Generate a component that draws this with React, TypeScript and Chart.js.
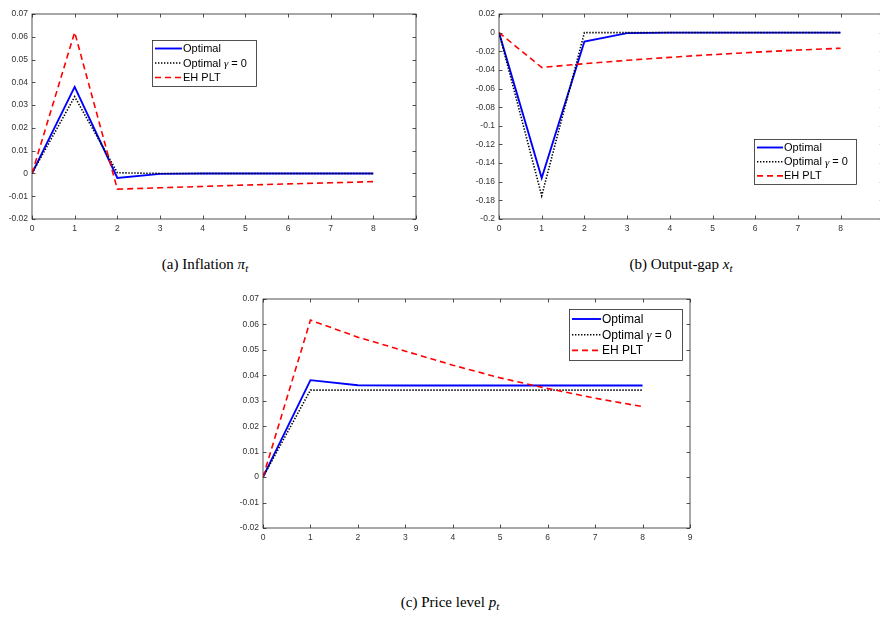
import React, { useEffect, useRef } from "react";
import { Chart, registerables } from "chart.js";
Chart.register(...registerables);

// ---------- data ----------
const periods = [0, 1, 2, 3, 4, 5, 6, 7, 8];
const seriesNames = ["Optimal", "Optimal γ = 0", "EH PLT"];

const inflationOptimal = [0, 0.038, -0.002, -0.0002, 0, 0, 0, 0, 0];
const inflationGamma0 = [0, 0.0337, 0.0003, 0, 0, 0, 0, 0, 0];
const inflationEH = [0, 0.062, -0.0069, -0.0063, -0.0057, -0.0051, -0.0046, -0.0041, -0.0036];

const gapOptimal = [0, -0.156, -0.0096, -0.0005, 0, 0, 0, 0, 0];
const gapGamma0 = [0, -0.175, 0, 0, 0, 0, 0, 0, 0];
const gapEH = [0, -0.0374, -0.0333, -0.0297, -0.0265, -0.0236, -0.021, -0.0187, -0.0167];

const priceOptimal = [0, 0.0381, 0.0361, 0.036, 0.036, 0.036, 0.036, 0.036, 0.036];
const priceGamma0 = [0, 0.0342, 0.0342, 0.0342, 0.0342, 0.0342, 0.0342, 0.0342, 0.0342];
const priceEH = [0, 0.0617, 0.055, 0.0495, 0.044, 0.039, 0.0348, 0.031, 0.0277];

const xTicks = { min: 0, max: 9, step: 1 };
const inflationTicks = { min: -0.02, max: 0.07, step: 0.01 };
const gapTicks = { min: -0.2, max: 0.02, step: 0.02 };
const priceTicks = { min: -0.02, max: 0.07, step: 0.01 };

const captions = ["(a) Inflation ", "(b) Output-gap ", "(c) Price level "];
const captionVars = ["π", "x", "p"];

// ---------- styles ----------
const AXIS = "#262626";
const lineStyles = [
  { color: "#0000ff", width: 1.9, dash: [] as number[] },
  { color: "#000000", width: 1.6, dash: [1.4, 1.6] },
  { color: "#ff0000", width: 1.6, dash: [6, 4] },
];

const framePlugin = {
  id: "matlabFrame",
  afterDatasetsDraw(chart: any) {
    const { ctx, chartArea: a, scales } = chart;
    ctx.save();
    ctx.strokeStyle = AXIS;
    ctx.lineWidth = 0.8;
    ctx.strokeRect(a.left, a.top, a.right - a.left, a.bottom - a.top);
    const len = 3.5;
    ctx.beginPath();
    for (const t of scales.y.ticks) {
      const p = Math.round(scales.y.getPixelForValue(t.value)) + 0.5;
      ctx.moveTo(a.left, p); ctx.lineTo(a.left + len, p);
      ctx.moveTo(a.right, p); ctx.lineTo(a.right - len, p);
    }
    for (const t of scales.x.ticks) {
      const p = Math.round(scales.x.getPixelForValue(t.value)) + 0.5;
      ctx.moveTo(p, a.bottom); ctx.lineTo(p, a.bottom - len);
      ctx.moveTo(p, a.top); ctx.lineTo(p, a.top + len);
    }
    ctx.stroke();

    const lg = chart.options.plugins.boxLegend;
    if (lg) {
      const fs = lg.fontSize;
      ctx.fillStyle = "#ffffff";
      ctx.fillRect(lg.x, lg.y, lg.w, lg.h);
      ctx.strokeStyle = AXIS;
      ctx.lineWidth = 0.8;
      ctx.strokeRect(lg.x + 0.5, lg.y + 0.5, lg.w, lg.h);
      seriesNames.forEach((name, i) => {
        const ry = lg.y + lg.rowTop + i * lg.rowGap;
        const st = lineStyles[i];
        ctx.strokeStyle = st.color;
        ctx.lineWidth = st.width;
        ctx.setLineDash(st.dash);
        ctx.beginPath();
        ctx.moveTo(lg.x + 3, ry);
        ctx.lineTo(lg.x + 3 + lg.sample, ry);
        ctx.stroke();
        ctx.setLineDash([]);
        ctx.fillStyle = "#000";
        ctx.textBaseline = "middle";
        ctx.textAlign = "left";
        let tx = lg.x + 4 + lg.sample;
        const parts = name.split("γ");
        parts.forEach((part, j) => {
          ctx.font = `${fs}px 'Liberation Sans', Arial, sans-serif`;
          ctx.fillText(part, tx, ry + 0.5);
          tx += ctx.measureText(part).width;
          if (j < parts.length - 1) {
            ctx.font = `italic ${fs}px 'Liberation Serif', serif`;
            ctx.fillText("γ", tx, ry + 1.5);
            tx += ctx.measureText("γ").width;
          }
        });
      });
    }
    ctx.restore();
  },
};

type Spec = {
  series: number[][];
  yt: { min: number; max: number; step: number };
  width: number;
  height: number;
  yWidth: number;
  xHeight: number;
  padTop: number;
  padRight: number;
  tickFont: number;
  xPad: number;
  legend: any;
};

function fmt(v: number) {
  return String(Number(v.toFixed(3)));
}

function Panel({ spec, style }: { spec: Spec; style: React.CSSProperties }) {
  const ref = useRef<HTMLCanvasElement>(null);
  useEffect(() => {
    const datasets = spec.series.map((vals, i) => ({
      label: seriesNames[i],
      data: vals.map((v, k) => ({ x: periods[k], y: v })),
      borderColor: lineStyles[i].color,
      borderWidth: lineStyles[i].width,
      borderDash: lineStyles[i].dash,
      pointRadius: 0,
      tension: 0,
      fill: false,
      order: 2 - i,
    }));
    const chart = new Chart(ref.current!, {
      type: "line",
      data: { datasets },
      plugins: [framePlugin],
      options: {
        animation: false,
        responsive: false,
        devicePixelRatio: 1,
        layout: { padding: { top: spec.padTop, right: spec.padRight, left: 0, bottom: 0 } },
        plugins: {
          legend: { display: false },
          tooltip: { enabled: false },
          boxLegend: spec.legend,
        } as any,
        scales: {
          x: {
            type: "linear",
            min: xTicks.min,
            max: xTicks.max,
            grid: { display: false, drawTicks: false },
            border: { display: false },
            ticks: {
              stepSize: xTicks.step,
              padding: spec.xPad,
              color: "#333",
              font: { family: "'Liberation Sans', Arial, sans-serif", size: spec.tickFont },
              maxRotation: 0,
              autoSkip: false,
            },
            afterFit: (s: any) => { s.height = spec.xHeight; },
          },
          y: {
            type: "linear",
            min: spec.yt.min,
            max: spec.yt.max,
            grid: { display: false, drawTicks: false },
            border: { display: false },
            ticks: {
              stepSize: spec.yt.step,
              padding: 4,
              color: "#333",
              font: { family: "'Liberation Sans', Arial, sans-serif", size: spec.tickFont },
              autoSkip: false,
              callback: (v: any) => fmt(Number(v)),
            },
            afterFit: (s: any) => { s.width = spec.yWidth; },
          },
        },
      },
    });
    return () => chart.destroy();
  }, []);
  return (
    <canvas
      ref={ref}
      width={spec.width}
      height={spec.height}
      style={{ position: "absolute", width: spec.width, height: spec.height, ...style }}
    />
  );
}

const specA: Spec = {
  series: [inflationOptimal, inflationGamma0, inflationEH],
  yt: inflationTicks,
  width: 440, height: 240, yWidth: 32, xHeight: 21, padTop: 14, padRight: 24, tickFont: 8.5, xPad: 4.5,
  legend: { x: 152, y: 40, w: 104, h: 46, rowTop: 8.5, rowGap: 14.5, sample: 27, fontSize: 11 },
};
const specB: Spec = {
  series: [gapOptimal, gapGamma0, gapEH],
  yt: gapTicks,
  width: 460, height: 240, yWidth: 59, xHeight: 21, padTop: 14, padRight: 16.7, tickFont: 8.5, xPad: 4.5,
  legend: { x: 314, y: 139, w: 102, h: 45, rowTop: 8.5, rowGap: 14.2, sample: 26, fontSize: 11 },
};
const specC: Spec = {
  series: [priceOptimal, priceGamma0, priceEH],
  yt: priceTicks,
  width: 500, height: 265, yWidth: 43, xHeight: 22, padTop: 14, padRight: 30, tickFont: 8.5, xPad: 5,
  legend: { x: 349, y: 24, w: 113, h: 51, rowTop: 10, rowGap: 15.7, sample: 29, fontSize: 12 },
};

const capStyle: React.CSSProperties = {
  position: "absolute",
  width: 260,
  textAlign: "center",
  fontFamily: "'Liberation Serif', 'DejaVu Serif', serif",
  fontSize: 15,
  lineHeight: "18px",
  color: "#000",
  whiteSpace: "nowrap",
};

function Caption({ i, cx, cy }: { i: number; cx: number; cy: number }) {
  return (
    <div style={{ ...capStyle, left: cx - 130, top: cy - 9 }}>
      {captions[i]}
      <i>{captionVars[i]}</i>
      <sub style={{ fontSize: 11, verticalAlign: "-3px" }}><i>t</i></sub>
    </div>
  );
}

export default function App() {
  return (
    <div
      style={{
        position: "absolute",
        left: 0,
        top: 0,
        width: 880,
        height: 626,
        overflow: "hidden",
        background: "#fff",
      }}
    >
      <Panel spec={specA} style={{ left: 0, top: 0 }} />
      <Panel spec={specB} style={{ left: 440, top: 0 }} />
      <Panel spec={specC} style={{ left: 220, top: 285 }} />
      <Caption i={0} cx={205} cy={264} />
      <Caption i={1} cx={681} cy={264} />
      <Caption i={2} cx={450} cy={602} />
    </div>
  );
}
